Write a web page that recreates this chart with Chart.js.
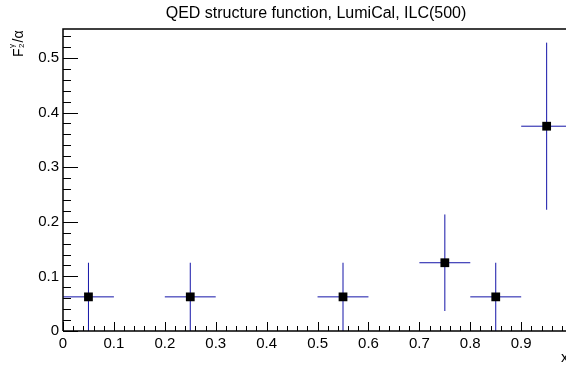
<!DOCTYPE html>
<html>
<head>
<meta charset="utf-8">
<script src="https://cdn.jsdelivr.net/npm/chart.js@4.4.0/dist/chart.umd.min.js"></script>
<style>
html, body { margin:0; padding:0; background:#fff; }
#wrap { width:566px; height:366px; }
</style>
</head>
<body>
<div id="wrap"><canvas id="myChart" width="566" height="366"></canvas></div>
<script>
// measured points (bin centre, value) with their errors
var xValues = [0.05, 0.25, 0.55, 0.75, 0.85, 0.95];
var yValues = [0.0625, 0.0625, 0.0625, 0.125, 0.0625, 0.375];
var xErrors = [0.05, 0.05, 0.05, 0.05, 0.05, 0.05];
var yErrors = [0.0625, 0.0625, 0.0625, 0.0884, 0.0625, 0.153];

var xTickValues = [0, 0.1, 0.2, 0.3, 0.4, 0.5, 0.6, 0.7, 0.8, 0.9];
var xTickLabels = ['0', '0.1', '0.2', '0.3', '0.4', '0.5', '0.6', '0.7', '0.8', '0.9'];
var yTickValues = [0, 0.1, 0.2, 0.3, 0.4, 0.5];
var yTickLabels = ['0', '0.1', '0.2', '0.3', '0.4', '0.5'];

var titleText = 'QED structure function, LumiCal, ILC(500)';
var xTitle = 'x';

var FONT = '"Liberation Sans", Arial, Helvetica, sans-serif';

var points = [];
for (var i = 0; i < xValues.length; i++) {
    points.push({x: xValues[i], y: yValues[i]});
}

// ROOT like frame: inner ticks, error bars, titles
var rootStyle = {
    id: 'rootStyle',
    beforeDatasetsDraw: function(chart) {
        var ctx = chart.ctx;
        var xs = chart.scales.x, ys = chart.scales.y;
        ctx.save();
        ctx.lineWidth = 1;
        ctx.strokeStyle = '#1414a8';
        for (var i = 0; i < xValues.length; i++) {
            var px = xs.getPixelForValue(xValues[i]);
            var py = ys.getPixelForValue(yValues[i]);
            ctx.beginPath();
            ctx.moveTo(px, ys.getPixelForValue(yValues[i] - yErrors[i]));
            ctx.lineTo(px, ys.getPixelForValue(yValues[i] + yErrors[i]));
            ctx.moveTo(xs.getPixelForValue(xValues[i] - xErrors[i]), py);
            ctx.lineTo(xs.getPixelForValue(xValues[i] + xErrors[i]), py);
            ctx.stroke();
        }
        ctx.restore();
    },
    afterDraw: function(chart) {
        var ctx = chart.ctx;
        var a = chart.chartArea;
        var xs = chart.scales.x, ys = chart.scales.y;
        ctx.save();
        ctx.strokeStyle = '#000';
        ctx.lineWidth = 1;

        // y ticks (inside)
        ctx.beginPath();
        for (var v = 0; v <= ys.max + 1e-9; v += 0.02) {
            var y = Math.round(ys.getPixelForValue(v)) + 0.5;
            var major = Math.abs(v * 10 - Math.round(v * 10)) < 1e-6;
            ctx.moveTo(a.left, y);
            ctx.lineTo(a.left + (major ? 15 : 8), y);
        }
        // x ticks (inside)
        for (var u = 0; u <= xs.max + 1e-9; u += 0.02) {
            var x = Math.round(xs.getPixelForValue(u)) + 0.5;
            var majorX = Math.abs(u * 10 - Math.round(u * 10)) < 1e-6;
            ctx.moveTo(x, a.bottom);
            ctx.lineTo(x, a.bottom - (majorX ? 9 : 5));
        }
        ctx.stroke();

        // frame
        ctx.lineWidth = 1.5;
        ctx.beginPath();
        ctx.moveTo(a.left, a.bottom);
        ctx.lineTo(a.left, a.top);
        ctx.lineTo(a.right, a.top);
        ctx.moveTo(a.left, a.bottom);
        ctx.lineTo(a.right, a.bottom);
        ctx.stroke();

        // title
        ctx.fillStyle = '#000';
        ctx.font = '16px ' + FONT;
        ctx.textAlign = 'center';
        ctx.textBaseline = 'alphabetic';
        ctx.fillText(titleText, 316, 18);

        // x axis title
        ctx.font = '15px ' + FONT;
        ctx.textAlign = 'left';
        ctx.fillText(xTitle, 561, 362);

        // y axis title  F_2^gamma / alpha
        ctx.translate(23, 57);
        ctx.rotate(-Math.PI / 2);
        ctx.textAlign = 'left';
        ctx.font = '14px ' + FONT;
        ctx.fillText('F', 0, 0);
        var w = ctx.measureText('F').width;
        ctx.font = '8px ' + FONT;
        ctx.fillText('2', w + 0.5, 1);
        ctx.fillText('\u03b3', w + 0.5, -9);
        var w2 = w + 6;
        ctx.font = '14px ' + FONT;
        ctx.fillText('/\u03b1', w2, 0);
        ctx.restore();
    }
};

var ctx = document.getElementById('myChart').getContext('2d');
var chart = new Chart(ctx, {
    type: 'scatter',
    data: {
        datasets: [{
            label: 'F2/alpha',
            data: points,
            pointStyle: 'rect',
            pointRadius: 6.2,
            pointBorderWidth: 0,
            backgroundColor: '#000',
            borderColor: '#000'
        }]
    },
    options: {
        responsive: false,
        animation: false,
        devicePixelRatio: 1,
        events: [],
        layout: { autoPadding: false, padding: { top: 29, right: 0, bottom: 0, left: 0 } },
        plugins: { legend: { display: false }, tooltip: { enabled: false }, title: { display: false } },
        scales: {
            x: {
                type: 'linear',
                min: 0,
                max: 0.988,
                afterBuildTicks: function(s) { s.ticks = xTickValues.map(function(v) { return {value: v}; }); },
                afterFit: function(s) { s.height = 35; s.paddingLeft = 0; s.paddingRight = 0; },
                grid: { display: false, drawTicks: false },
                border: { display: false },
                ticks: {
                    padding: 4,
                    maxRotation: 0,
                    autoSkip: false,
                    color: '#000',
                    font: { family: FONT, size: 15 },
                    callback: function(v, i) { return xTickLabels[i]; }
                }
            },
            y: {
                type: 'linear',
                min: 0,
                max: 0.553,
                afterBuildTicks: function(s) { s.ticks = yTickValues.map(function(v) { return {value: v}; }); },
                afterFit: function(s) { s.width = 63; s.paddingTop = 0; s.paddingBottom = 0; },
                grid: { display: false, drawTicks: false },
                border: { display: false },
                ticks: {
                    padding: 4,
                    autoSkip: false,
                    color: '#000',
                    font: { family: FONT, size: 15 },
                    callback: function(v, i) { return yTickLabels[i]; }
                }
            }
        }
    },
    plugins: [rootStyle]
});
</script>
</body>
</html>
